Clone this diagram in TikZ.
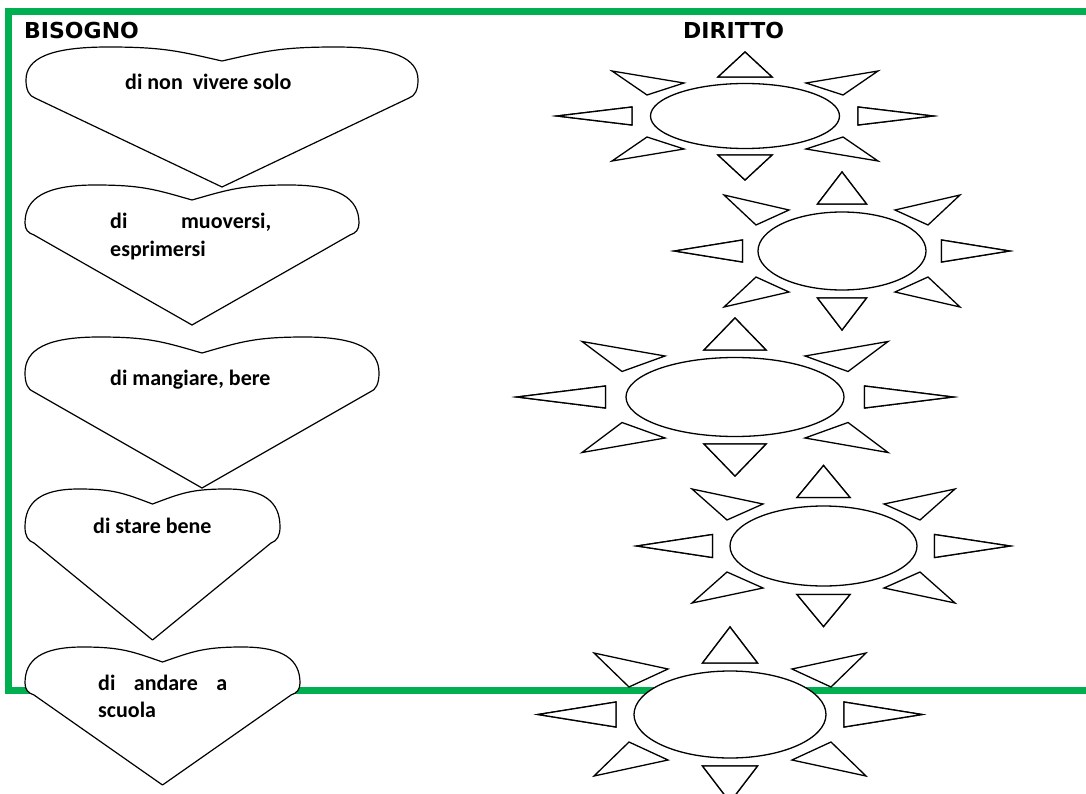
\documentclass[tikz,border=0pt]{standalone}
\usepackage{fontspec}
\setmainfont{Carlito}
\newfontfamily\titlefont{DejaVu Sans}
\usetikzlibrary{shapes.geometric}
\definecolor{boxgreen}{RGB}{0,176,80}

% heart outline: #1 xl, #2 xr, #3 y lobe top, #4 y dip, #5 y side extreme, #6 y lower corner, #7 y bottom tip
\newcommand\heartshape[7]{%
  \pgfmathsetmacro\hm{(#1+#2)/2}%
  \pgfmathsetmacro\hw{(#2-#1)/2}%
  \pgfmathsetmacro\hla{#1+0.42*\hw}%
  \pgfmathsetmacro\hra{#2-0.42*\hw}%
  \pgfmathsetmacro\cA{\hm-0.22*\hw}%
  \pgfmathsetmacro\cAr{\hm+0.22*\hw}%
  \pgfmathsetmacro\cB{\hla+0.28*\hw}%
  \pgfmathsetmacro\cBr{\hra-0.28*\hw}%
  \pgfmathsetmacro\cC{\hla-0.3*\hw}%
  \pgfmathsetmacro\cCr{\hra+0.3*\hw}%
  \pgfmathsetmacro\yA{#3+0.3*(#4-#3)}%
  \pgfmathsetmacro\yE{#3+0.35*(#5-#3)}%
  \pgfmathsetmacro\yF{#5+0.55*(#6-#5)}%
  \draw[heart] (\hm,#4)
    .. controls (\cA,\yA) and (\cB,#3) .. (\hla,#3)
    .. controls (\cC,#3) and (#1,\yE) .. (#1,#5)
    .. controls (#1,\yF) and ({#1+3},{#6-2}) .. ({#1+9},#6)
    -- (\hm,#7) -- ({#2-9},#6)
    .. controls ({#2-3},{#6-2}) and (#2,\yF) .. (#2,#5)
    .. controls (#2,\yE) and (\cCr,#3) .. (\hra,#3)
    .. controls (\cBr,#3) and (\cAr,\yA) .. cycle;
}

% sun: #1 name, #2 centre, #3 ellipse width, #4 ellipse height, #5 top ray, #6 left ray, #7 upper-left ray
\newcommand\sunshape[7]{%
  \begin{scope}[shift={#2}]
    \foreach \sx/\sy in {1/1,1/-1,-1/1,-1/-1}{%
      \draw[ray,xscale=\sx,yscale=\sy] #5 -- cycle;
      \draw[ray,xscale=\sx,yscale=\sy] #6 -- cycle;
      \draw[ray,xscale=\sx,yscale=\sy] #7 -- cycle;
    }
    \node[sunell,minimum width=#3pt,minimum height=#4pt] (#1) at (0,0) {};
  \end{scope}}

\begin{document}
\begin{tikzpicture}[x=1pt,y=-1pt,
  heart/.style={draw=black,fill=white,line width=1.2pt,line join=round},
  ray/.style={draw=black,fill=white,line width=1.3pt,line join=miter},
  sunell/.style={ellipse,draw=black,fill=white,line width=1.3pt,inner sep=0pt},
  htext/.style={font=\bfseries\fontsize{22}{27}\selectfont,inner sep=0pt,anchor=base west},
  ttext/.style={font=\titlefont\bfseries\fontsize{22}{26}\selectfont,inner sep=0pt,anchor=base west}]

\fill[white] (0,0) rectangle (1086,794);
\useasboundingbox (0,0) rectangle (1086,794);

% green frame
\draw[boxgreen,line width=7pt,line join=miter] (1100,11.5) -- (8.5,11.5) -- (8.5,690) -- (1100,690);

% titles
\node[ttext] (bisogno) at (24,39) {BISOGNO};
\node[ttext] (diritto) at (683,39) {DIRITTO};

% hearts
\heartshape{26}{418}{47}{61}{80}{98}{187}
\heartshape{25}{359}{185}{200}{223}{235}{325}
\heartshape{25}{379}{337}{353}{373}{392}{488}
\heartshape{25}{280}{489}{504}{527}{543}{640}
\heartshape{25}{300}{647}{662}{683}{695}{785}

\node[htext] (h1) at (125,90) {di non\ \ vivere solo};
\node[htext] (h2a) at (110,229) {\makebox[161pt][l]{di\hfill muoversi,}};
\node[htext] (h2b) at (110,256) {esprimersi};
\node[htext] (h3) at (110,385) {di mangiare, bere};
\node[htext] (h4) at (93,533) {di stare bene};
\node[htext] (h5a) at (98,690) {\makebox[129pt][l]{di\hfill andare\hfill a}};
\node[htext] (h5b) at (98,717) {scuola};

% suns
\sunshape{s1}{(745,116)}{189}{65}{(0,-64) -- (-27,-39) -- (27,-39)}{(-188,0) -- (-113,-9) -- (-113,9)}{(-133,-45) -- (-61,-33) -- (-98,-21)}
\sunshape{s2}{(842,251)}{168}{78}{(0,-79) -- (-24.5,-47) -- (24.5,-47)}{(-167.5,0) -- (-99.5,-11) -- (-99.5,11)}{(-118,-56) -- (-53,-41) -- (-86,-26)}
\sunshape{s3}{(735,397)}{218}{79}{(0,-79) -- (-31,-47) -- (31,-47)}{(-218,0) -- (-129.5,-11) -- (-129.5,11)}{(-153,-55.5) -- (-70,-41) -- (-113,-25.5)}
\sunshape{s4}{(823.5,546)}{187}{80}{(0,-80.5) -- (-26.5,-48.5) -- (26.5,-48.5)}{(-186.5,0) -- (-111,-11.5) -- (-111,11.5)}{(-131.5,-57) -- (-60.5,-42) -- (-96.5,-26)}
\sunshape{s5}{(730,714.5)}{192}{87}{(0,-87.5) -- (-27.5,-51.5) -- (27.5,-51.5)}{(-192,0) -- (-114,-12.5) -- (-114,12.5)}{(-136,-61.5) -- (-62,-45.5) -- (-101,-27.5)}

\end{tikzpicture}
\end{document}
